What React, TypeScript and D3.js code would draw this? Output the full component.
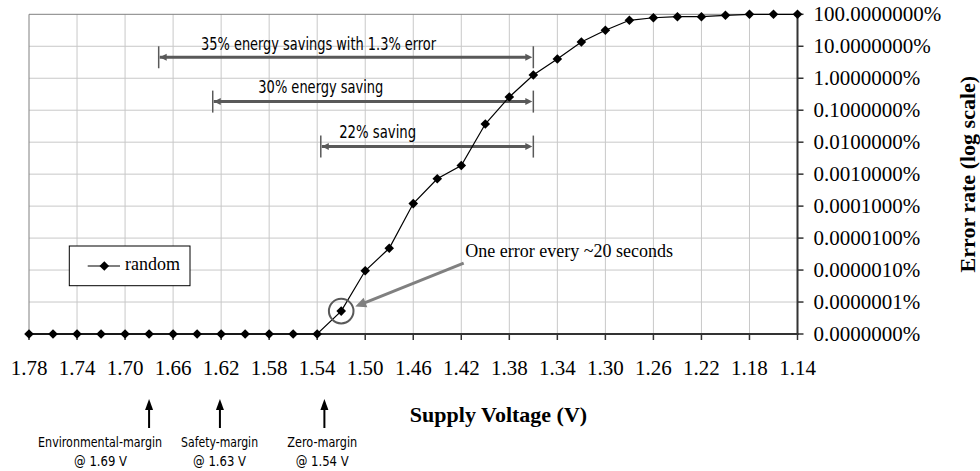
import React from 'react';
import * as d3 from 'd3';

// supply voltage steps (V) and measured error rate (%) for the "random" pattern
const voltages = [
  1.78, 1.76, 1.74, 1.72, 1.70, 1.68, 1.66, 1.64, 1.62, 1.60, 1.58, 1.56, 1.54,
  1.52, 1.50, 1.48, 1.46, 1.44, 1.42, 1.40, 1.38, 1.36, 1.34, 1.32, 1.30,
  1.28, 1.26, 1.24, 1.22, 1.20, 1.18, 1.16, 1.14,
];
const errorRates = [
  0, 0, 0, 0, 0, 0, 0, 0, 0, 0, 0, 0, 0,
  5.2e-8, 9.5e-7, 4.8e-6, 1.2e-4, 7.2e-4, 1.86e-3, 0.037, 0.26, 1.26, 4.0, 13.6, 31.6,
  65, 78, 84, 84, 93, 100, 100, 100,
];

const xTicks = [1.78, 1.74, 1.70, 1.66, 1.62, 1.58, 1.54, 1.50, 1.46, 1.42, 1.38, 1.34, 1.30, 1.26, 1.22, 1.18, 1.14];
const yTicks = [100, 10, 1, 0.1, 0.01, 0.001, 0.0001, 0.00001, 0.000001, 0.0000001, 0.00000001];

// savings ranges (volts) with their label and height (%)
const rangeLabels = ['35% energy savings with 1.3% error', '30% energy saving', '22% saving'];
const rangeFrom = [1.672, 1.627, 1.537];
const rangeTo = [1.36, 1.36, 1.36];
const rangeY = [4.53, 0.186, 0.00729];
const rangeTextX = [1.6367, 1.589, 1.5217];
const rangeTextY = [11, 0.487, 0.02];
const rangeTextW = [235, 125, 77];

// margins marked under the axis
const marginNames = ['Environmental-margin', 'Safety-margin', 'Zero-margin'];
const marginValues = ['@ 1.69 V', '@ 1.63 V', '@ 1.54 V'];
const marginArrowV = [1.68, 1.621, 1.534];
const marginTextV = [1.7208, 1.6213, 1.5358];
const marginNameW = [124, 77, 70];

const FLOOR = 1e-8;
const narrow = "'Liberation Sans Narrow','Arial Narrow','DejaVu Sans Condensed',sans-serif";
const serif = "'Liberation Serif','Times New Roman',serif";

const diamond = (cx: number, cy: number, r: number) =>
  `M${cx},${cy - r}L${cx + r},${cy}L${cx},${cy + r}L${cx - r},${cy}Z`;

const App = () => {
  const width = 980;
  const height = 471;
  const x = d3.scaleLinear().domain([1.78, 1.14]).range([29, 797.5]);
  const y = d3.scaleLog().domain([FLOOR, 100]).range([334, 14.3]);
  const fmt = d3.format('.7f');

  const pts = voltages.map((v, i) => [x(v), y(Math.max(errorRates[i], FLOOR))] as [number, number]);
  const line = d3.line()(pts);

  const left = x(1.78);
  const right = x(1.14);
  const top = y(100);
  const bottom = y(FLOOR);

  // callout near 1.52 V
  const circ = pts[13];
  const cFrom: [number, number] = [x(1.418), y(1.66e-6)];
  const cTo: [number, number] = [x(1.5083), y(7.2e-8)];
  const ang = Math.atan2(cTo[1] - cFrom[1], cTo[0] - cFrom[0]);
  const hl = 11, hw = 5;
  const head = [
    cTo,
    [cTo[0] - hl * Math.cos(ang) + hw * Math.sin(ang), cTo[1] - hl * Math.sin(ang) - hw * Math.cos(ang)],
    [cTo[0] - hl * Math.cos(ang) - hw * Math.sin(ang), cTo[1] - hl * Math.sin(ang) + hw * Math.cos(ang)],
  ];

  return (
    <svg width={width} height={height} style={{ display: 'block', position: 'absolute', left: 0, top: 0 }}>
      <rect width={width} height={height} fill="#fff" />
      {/* grid */}
      {yTicks.slice(1, -1).map((t) => (
        <line key={'gy' + t} x1={left} x2={right} y1={y(t)} y2={y(t)} stroke="#c8c8c8" strokeWidth={1} />
      ))}
      {xTicks.slice(1, -1).map((t) => (
        <line key={'gx' + t} x1={x(t)} x2={x(t)} y1={top} y2={bottom} stroke="#c8c8c8" strokeWidth={1} />
      ))}
      <line x1={left} x2={right} y1={top} y2={top} stroke="#808080" strokeWidth={1} />
      <line x1={left} x2={left} y1={top} y2={bottom} stroke="#808080" strokeWidth={1} />

      {/* axes */}
      <line x1={left} x2={right + 1} y1={bottom} y2={bottom} stroke="#333" strokeWidth={2} />
      <line x1={right} x2={right} y1={top} y2={bottom + 1} stroke="#333" strokeWidth={2} />
      {xTicks.map((t) => (
        <line key={'tx' + t} x1={x(t)} x2={x(t)} y1={bottom} y2={bottom + 6} stroke="#333" strokeWidth={1.5} />
      ))}
      {yTicks.map((t) => (
        <line key={'ty' + t} x1={right} x2={right + 6} y1={y(t)} y2={y(t)} stroke="#333" strokeWidth={1.5} />
      ))}
      {xTicks.map((t) => (
        <text key={'lx' + t} x={x(t)} y={y(FLOOR) + 36} textAnchor="middle" dominantBaseline="middle"
          fontFamily={serif} fontSize={21} fill="#000">
          {t.toFixed(2)}
        </text>
      ))}
      {yTicks.map((t) => (
        <text key={'ly' + t} x={right + 16} y={y(t) + 2} dominantBaseline="middle"
          fontFamily={serif} fontSize={21} fill="#000">
          {fmt(t < 1e-7 ? 0 : t) + '%'}
        </text>
      ))}
      <text x={498.5} y={417} textAnchor="middle" dominantBaseline="middle" fontFamily={serif}
        fontSize={22} fontWeight="bold">Supply Voltage (V)</text>
      <text transform={`translate(970,${(top + bottom) / 2}) rotate(-90)`} textAnchor="middle"
        dominantBaseline="middle" fontFamily={serif} fontSize={22} fontWeight="bold">Error rate (log scale)</text>

      {/* savings ranges */}
      {rangeLabels.map((lab, i) => {
        const x0 = x(rangeFrom[i]);
        const x1 = x(rangeTo[i]);
        const yy = y(rangeY[i]);
        return (
          <g key={lab}>
            <line x1={x0 + 1} x2={x1 - 6} y1={yy} y2={yy} stroke="#595959" strokeWidth={3} />
            <path d={`M${x0 + 1},${yy}L${x0 + 8},${yy - 3.5}L${x0 + 8},${yy + 3.5}Z`} fill="#595959" />
            <path d={`M${x1 - 1},${yy}L${x1 - 8},${yy - 3.5}L${x1 - 8},${yy + 3.5}Z`} fill="#595959" />
            <line x1={x0} x2={x0} y1={yy - 11} y2={yy + 11} stroke="#595959" strokeWidth={1.5} />
            <line x1={x1} x2={x1} y1={yy - 11} y2={yy + 11} stroke="#595959" strokeWidth={1.5} />
            <text x={x(rangeTextX[i])} y={y(rangeTextY[i])} dominantBaseline="middle" fontFamily={narrow}
              fontSize={17} textLength={rangeTextW[i]} lengthAdjust="spacingAndGlyphs" fill="#000">{lab}</text>
          </g>
        );
      })}

      {/* data */}
      <path d={line ?? ''} fill="none" stroke="#000" strokeWidth={1.2} />
      {pts.map((p, i) => (
        <path key={'pt' + i} d={diamond(p[0], p[1], 4.8)} fill="#000" />
      ))}

      {/* callout */}
      <circle cx={circ[0]} cy={circ[1]} r={12.3} fill="none" stroke="#595959" strokeWidth={2} />
      <line x1={cFrom[0]} y1={cFrom[1]} x2={cTo[0] - 8 * Math.cos(ang)} y2={cTo[1] - 8 * Math.sin(ang)}
        stroke="#808080" strokeWidth={3} />
      <path d={d3.line()(head as [number, number][]) + 'Z'} fill="#808080" />
      <text x={x(1.4167)} y={y(3.55e-6)} dominantBaseline="middle" fontFamily={serif} fontSize={18}>
        One error every ~20 seconds
      </text>

      {/* legend */}
      <rect x={69.3} y={246} width={120.7} height={39.7} fill="#fff" stroke="#000" strokeWidth={1} />
      <line x1={87.7} x2={120} y1={266} y2={266} stroke="#000" strokeWidth={1.2} />
      <path d={diamond(104.3, 266, 4.8)} fill="#000" />
      <text x={125} y={266} dominantBaseline="middle" fontFamily={serif} fontSize={18}>random</text>

      {/* margins */}
      {marginNames.map((n, i) => {
        const ax = x(marginArrowV[i]);
        const tx = x(marginTextV[i]);
        return (
          <g key={n}>
            <line x1={ax} x2={ax} y1={408} y2={428} stroke="#000" strokeWidth={2} />
            <path d={`M${ax},${399}L${ax + 4},${410}L${ax - 4},${410}Z`} fill="#000" />
            <text x={tx} y={442.5} textAnchor="middle" dominantBaseline="middle" fontFamily={narrow}
              fontSize={14} textLength={marginNameW[i]} lengthAdjust="spacingAndGlyphs">{n}</text>
            <text x={tx + (i === 0 ? 0.5 : 0)} y={462} textAnchor="middle" dominantBaseline="middle"
              fontFamily={narrow} fontSize={14} textLength={53} lengthAdjust="spacingAndGlyphs">{marginValues[i]}</text>
          </g>
        );
      })}
    </svg>
  );
};

export default App;
